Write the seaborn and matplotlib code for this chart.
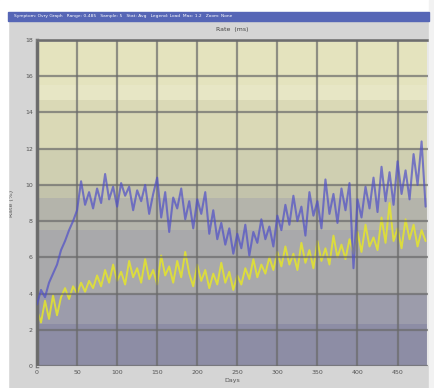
import numpy as np
import pandas as pd
import matplotlib
matplotlib.use('Agg')
import matplotlib.pyplot as plt
import seaborn as sns
from matplotlib.patches import Rectangle

# --- DATA (one sample every 5 days) ---
days = list(range(0, 490, 5))

upper_series = [
    3.4, 4.2, 3.8, 4.6, 5.1, 5.6, 6.4, 6.9, 7.5, 8.0,
    8.6, 10.2, 8.9, 9.6, 8.7, 9.8, 9.0, 10.6, 9.2, 9.9,
    8.8, 10.1, 9.4, 9.9, 8.6, 9.7, 9.1, 10.0, 8.4, 9.5,
    10.4, 8.2, 9.6, 7.4, 9.3, 8.7, 9.8, 8.1, 9.1, 7.6,
    9.2, 8.4, 9.6, 7.3, 8.6, 7.0, 7.9, 6.7, 7.6, 6.2,
    7.3, 6.5, 7.8, 6.1, 7.4, 6.8, 8.1, 7.0, 7.7, 6.6,
    8.3, 7.5, 8.9, 7.8, 9.4, 8.0, 8.8, 7.2, 9.6, 8.3,
    9.1, 7.6, 10.3, 8.4, 9.5, 7.9, 9.8, 8.6, 10.1, 5.4,
    9.2, 8.2, 9.9, 8.7, 10.4, 8.5, 11.0, 9.1, 10.7, 8.9,
    11.3, 9.5, 10.8, 9.2, 11.7, 10.0, 12.4, 8.8,
]

lower_series = [
    3.1, 2.4, 3.6, 2.6, 3.9, 2.8, 3.8, 4.3, 3.7, 4.4,
    4.0, 4.6, 4.1, 4.7, 4.3, 5.0, 4.4, 5.3, 4.6, 5.6,
    4.7, 5.2, 4.5, 5.8, 4.9, 5.4, 4.6, 5.9, 4.8, 5.3,
    4.5, 6.1, 5.0, 5.5, 4.6, 5.8, 4.9, 6.3, 5.1, 4.4,
    5.6, 4.7, 5.3, 4.3, 5.1, 4.5, 5.7, 4.6, 5.2, 4.2,
    5.0, 4.5, 5.4, 4.8, 5.9, 4.9, 5.6, 5.1, 6.0, 5.3,
    6.3, 5.5, 6.6, 5.6, 6.2, 5.3, 6.8, 5.7, 6.4, 5.4,
    6.9, 5.8, 6.5, 5.6, 7.2, 6.0, 6.7, 5.9, 7.0, 6.2,
    7.4, 6.3, 7.8, 6.6, 7.1, 6.4, 8.2, 6.8, 9.0, 6.9,
    7.6, 6.5, 8.1, 7.0, 7.8, 6.6, 7.5, 6.9,
]

x_ticks = [0, 50, 100, 150, 200, 250, 300, 350, 400, 450]
y_ticks = [0, 2, 4, 6, 8, 10, 12, 14, 16, 18]

# background zones (value edges and fill colours)
band_edges = [0, 2.3, 4.0, 7.5, 9.3, 10.0, 12.0, 14.7, 15.5, 18]
band_colors = ['#8d8da5', '#9c9cab', '#a9a9ab', '#b4b4ab', '#c3c3ab',
               '#cfcfb1', '#dad9b6', '#e7e6c5', '#e4e3be']

df = pd.DataFrame({'Days': days, 'upper': upper_series, 'lower': lower_series})

# --- FIGURE ---
sns.set_style('white')
fig = plt.figure(figsize=(4.34, 3.88), dpi=100)
fig.patch.set_facecolor('#d5d5d5')

# window chrome
fig.patches.append(Rectangle((0, 0), 8/434, 1, transform=fig.transFigure, color='white', zorder=0))
fig.patches.append(Rectangle((0, 376/388), 1, 12/388, transform=fig.transFigure, color='white', zorder=0))
fig.patches.append(Rectangle((429/434, 0), 5/434, 1, transform=fig.transFigure, color='#f2f2f2', zorder=0))
fig.patches.append(Rectangle((8/434, 367/388), 421/434, 9/388, transform=fig.transFigure, color='#5666b6', zorder=1))
fig.text(14/434, 371.5/388,
         'Symptom: Ovry Graph   Range: 0-485   Sample: 5   Stat: Avg   Legend: Load  Max: 1.2   Zoom: None',
         fontsize=3.2, color='white', va='center', ha='left')
fig.text(232/434, 358/388, 'Rate  (ms)', fontsize=4.5, color='#444444', ha='center', va='center')

ax = fig.add_axes([37/434, 22/388, 391/434, 326/388])

for lo, hi, c in zip(band_edges[:-1], band_edges[1:], band_colors):
    ax.axhspan(lo, hi, color=c, lw=0, zorder=0)

sns.lineplot(data=df, x='Days', y='upper', ax=ax, color='#4f4fc8', lw=1.5, alpha=0.7, zorder=3)
sns.lineplot(data=df, x='Days', y='lower', ax=ax, color='#e6e62a', lw=1.4, alpha=0.85, zorder=2)

ax.set_xlim(0, 488)
ax.set_ylim(0, 18)
ax.set_xticks(x_ticks)
ax.set_yticks(y_ticks)
ax.grid(True, color='#6a6a6a', lw=1.6, alpha=0.7)
ax.set_axisbelow(False)
for gl in ax.get_xgridlines() + ax.get_ygridlines():
    gl.set_zorder(1)

ax.tick_params(labelsize=4.5, colors='#555555', length=0, pad=3)
ax.set_xlabel('Days', fontsize=4.5, color='#555555', labelpad=2)
ax.set_ylabel('Rate (%)', fontsize=4.5, color='#555555', labelpad=8)

ax.spines['left'].set_color('#6e6e6e')
ax.spines['left'].set_linewidth(2.5)
ax.spines['top'].set_color('#7a7a7a')
ax.spines['top'].set_linewidth(2)
ax.spines['bottom'].set_color('#d0d0d0')
ax.spines['bottom'].set_linewidth(1)
ax.spines['right'].set_color('#e8e8e8')
ax.spines['right'].set_linewidth(1.5)

fig.savefig('out.png', dpi=100, facecolor=fig.get_facecolor())
